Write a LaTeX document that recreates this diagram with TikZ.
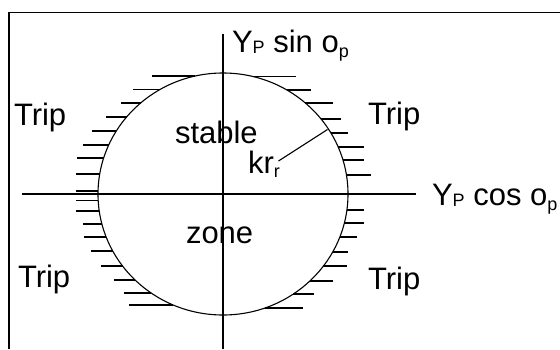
\documentclass[tikz,border=0pt]{standalone}
\usepackage{fontspec}
\setmainfont{Liberation Sans}
\newcommand{\lowsub}[2]{\raisebox{-#2pt}{\fontsize{18}{18}\selectfont #1}}
\begin{document}
\begin{tikzpicture}[x=1pt,y=-1pt,
  lbl/.style={anchor=base west,inner sep=0pt,outer sep=0pt,font=\fontsize{31}{31}\selectfont},
  ln/.style={line width=1.1pt,black}]
\useasboundingbox (0,0) rectangle (560,349);
\fill[white] (0,0) rectangle (560,349);
% frame
\draw[line width=1.4pt] (9,349) -- (9,12.7) -- (560,12.7);
% axes
\coordinate (ytop) at (223,34.3);
\coordinate (ybot) at (223,349);
\coordinate (xl) at (22,194);
\coordinate (xr) at (416,194);
\draw[ln] (ytop) -- (ybot);
\draw[ln] (xl) -- (xr);
% circle
\coordinate (c) at (223,194);
\draw[ln] (c) ellipse [x radius=125, y radius=121];
% left hatches
\foreach \yy/\xx in {76/152,89.3/133,103/121,117/106,131/92,145/83,158/77,174/76,191/76,200.7/76,211/76,224/83,237/84,251/91,266/101,280/114,293/124,305/129}{
  \pgfmathsetmacro{\xc}{223-125*sqrt(1-((\yy-194)/121)^2)}
  \draw[ln] (\xx,\yy) -- (\xc,\yy);
}
% right hatches
\foreach \yy/\xx in {76.7/296,90/311,103/333,119/341,133/348,147/364,160/364,175/371,210/364,223/364,237/357,252/348,266/347,281/333,294/314,308/303}{
  \pgfmathsetmacro{\xc}{223+125*sqrt(1-((\yy-194)/121)^2)}
  \draw[ln] (\xc,\yy) -- (\xx,\yy);
}
% radius
\coordinate (rp) at (327.5,129.5);
\coordinate (rk) at (278.5,161);
\draw[ln] (rp) -- (rk);
% labels
\node[lbl] (ysin) at (232,52) {Y\lowsub{P}{1.5} sin o\lowsub{p}{5}};
\node[lbl] (ycos) at (432,205) {Y\lowsub{P}{1.5} cos o\lowsub{p}{5}};
\node[lbl] (tl) at (14,125) {Trip};
\node[lbl] (tr) at (368,124) {Trip};
\node[lbl] (bl) at (18,287) {Trip};
\node[lbl] (br) at (368,289) {Trip};
\node[lbl] (st) at (175,143) {stable};
\node[lbl] (zn) at (186,243) {zone};
\node[lbl] (kr) at (248,173) {kr\lowsub{r}{4}};
\end{tikzpicture}
\end{document}
